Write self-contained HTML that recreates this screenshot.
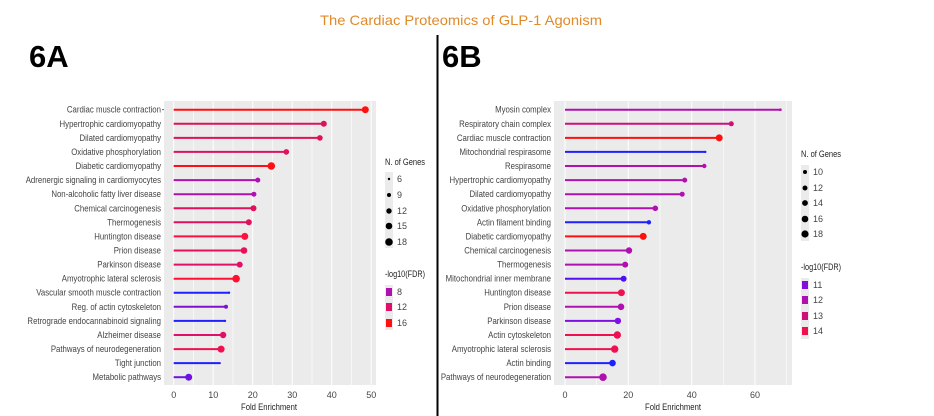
<!DOCTYPE html>
<html><head><meta charset="utf-8"><style>
html,body{margin:0;padding:0;background:#fff;}
svg{display:block;}
.l{font-family:"Liberation Sans",sans-serif;font-size:9.2px;fill:#444;}
.t{font-family:"Liberation Sans",sans-serif;font-size:9px;fill:#444;}
.h{font-family:"Liberation Sans",sans-serif;font-weight:bold;font-size:31px;fill:#000;}
</style></head><body>
<svg width="934" height="416" viewBox="0 0 934 416" xmlns="http://www.w3.org/2000/svg">
<text x="461" y="25" text-anchor="middle" font-family="Liberation Sans, sans-serif" font-size="14" fill="#e08a2a" textLength="282" lengthAdjust="spacingAndGlyphs">The Cardiac Proteomics of GLP-1 Agonism</text>
<text x="29" y="67" class="h">6A</text>
<text x="442" y="67" class="h">6B</text>
<line x1="437.5" y1="35" x2="437.5" y2="416" stroke="#000" stroke-width="2"/>

<!-- Panel A -->
<rect x="164" y="101" width="212" height="284" fill="#ebebeb"/>
<g stroke="#fff" stroke-width="0.6">
<line x1="193.5" y1="101" x2="193.5" y2="385"/><line x1="233" y1="101" x2="233" y2="385"/><line x1="272.5" y1="101" x2="272.5" y2="385"/><line x1="312" y1="101" x2="312" y2="385"/><line x1="351.5" y1="101" x2="351.5" y2="385"/>
</g>
<g stroke="#fff" stroke-width="1">
<line x1="173.7" y1="101" x2="173.7" y2="385"/><line x1="213.2" y1="101" x2="213.2" y2="385"/><line x1="252.7" y1="101" x2="252.7" y2="385"/><line x1="292.2" y1="101" x2="292.2" y2="385"/><line x1="331.7" y1="101" x2="331.7" y2="385"/><line x1="371.2" y1="101" x2="371.2" y2="385"/>
</g>
<g stroke-width="2">
<line x1="173.7" y1="109.7" x2="365.3" y2="109.7" stroke="#ff1010"/><circle cx="365.3" cy="109.7" r="3.5" fill="#ff1010"/>
<line x1="173.7" y1="123.8" x2="323.8" y2="123.8" stroke="#e0105a"/><circle cx="323.8" cy="123.8" r="3" fill="#e0105a"/>
<line x1="173.7" y1="137.9" x2="319.9" y2="137.9" stroke="#e0105a"/><circle cx="319.9" cy="137.9" r="2.8" fill="#e0105a"/>
<line x1="173.7" y1="151.9" x2="286.3" y2="151.9" stroke="#e01060"/><circle cx="286.3" cy="151.9" r="2.8" fill="#e01060"/>
<line x1="173.7" y1="166.0" x2="271.3" y2="166.0" stroke="#ff1010"/><circle cx="271.3" cy="166.0" r="3.8" fill="#ff1010"/>
<line x1="173.7" y1="180.1" x2="257.8" y2="180.1" stroke="#b010b0"/><circle cx="257.8" cy="180.1" r="2.5" fill="#b010b0"/>
<line x1="173.7" y1="194.2" x2="253.9" y2="194.2" stroke="#b010b0"/><circle cx="253.9" cy="194.2" r="2.5" fill="#b010b0"/>
<line x1="173.7" y1="208.3" x2="253.5" y2="208.3" stroke="#e0105a"/><circle cx="253.5" cy="208.3" r="3" fill="#e0105a"/>
<line x1="173.7" y1="222.3" x2="248.8" y2="222.3" stroke="#e0105a"/><circle cx="248.8" cy="222.3" r="3" fill="#e0105a"/>
<line x1="173.7" y1="236.4" x2="244.8" y2="236.4" stroke="#ff1040"/><circle cx="244.8" cy="236.4" r="3.5" fill="#ff1040"/>
<line x1="173.7" y1="250.5" x2="244" y2="250.5" stroke="#e8105a"/><circle cx="244" cy="250.5" r="3.3" fill="#e8105a"/>
<line x1="173.7" y1="264.6" x2="239.7" y2="264.6" stroke="#e01068"/><circle cx="239.7" cy="264.6" r="3" fill="#e01068"/>
<line x1="173.7" y1="278.7" x2="236.1" y2="278.7" stroke="#ff1030"/><circle cx="236.1" cy="278.7" r="3.8" fill="#ff1030"/>
<line x1="173.7" y1="292.7" x2="229" y2="292.7" stroke="#2020ff"/><circle cx="229" cy="292.7" r="1.2" fill="#2020ff"/>
<line x1="173.7" y1="306.8" x2="226" y2="306.8" stroke="#8010d0"/><circle cx="226" cy="306.8" r="2" fill="#8010d0"/>
<line x1="173.7" y1="320.9" x2="225" y2="320.9" stroke="#2020ff"/><circle cx="225" cy="320.9" r="1.2" fill="#2020ff"/>
<line x1="173.7" y1="335.0" x2="223.1" y2="335.0" stroke="#e0106a"/><circle cx="223.1" cy="335.0" r="3.2" fill="#e0106a"/>
<line x1="173.7" y1="349.1" x2="221.1" y2="349.1" stroke="#f01050"/><circle cx="221.1" cy="349.1" r="3.5" fill="#f01050"/>
<line x1="173.7" y1="363.1" x2="219.9" y2="363.1" stroke="#2020ff"/><circle cx="219.9" cy="363.1" r="1" fill="#2020ff"/>
<line x1="173.7" y1="377.2" x2="188.7" y2="377.2" stroke="#7010e8"/><circle cx="188.7" cy="377.2" r="3.5" fill="#7010e8"/>
</g>
<g class="l" text-anchor="end" transform="translate(161,0) scale(0.85,1)">
<text x="0" y="112.7">Cardiac muscle contraction</text>
<text x="0" y="126.8">Hypertrophic cardiomyopathy</text>
<text x="0" y="140.9">Dilated cardiomyopathy</text>
<text x="0" y="154.9">Oxidative phosphorylation</text>
<text x="0" y="169">Diabetic cardiomyopathy</text>
<text x="0" y="183.1">Adrenergic signaling in cardiomyocytes</text>
<text x="0" y="197.2">Non-alcoholic fatty liver disease</text>
<text x="0" y="211.3">Chemical carcinogenesis</text>
<text x="0" y="225.3">Thermogenesis</text>
<text x="0" y="239.4">Huntington disease</text>
<text x="0" y="253.5">Prion disease</text>
<text x="0" y="267.6">Parkinson disease</text>
<text x="0" y="281.7">Amyotrophic lateral sclerosis</text>
<text x="0" y="295.7">Vascular smooth muscle contraction</text>
<text x="0" y="309.8">Reg. of actin cytoskeleton</text>
<text x="0" y="323.9">Retrograde endocannabinoid signaling</text>
<text x="0" y="338">Alzheimer disease</text>
<text x="0" y="352.1">Pathways of neurodegeneration</text>
<text x="0" y="366.1">Tight junction</text>
<text x="0" y="380.2">Metabolic pathways</text>
</g>
<g stroke="#444" stroke-width="0.8">
<line x1="162" y1="109.7" x2="164" y2="109.7"/>
</g>
<g class="t" text-anchor="middle">
<text x="173.7" y="398">0</text><text x="213.2" y="398">10</text><text x="252.7" y="398">20</text><text x="292.2" y="398">30</text><text x="331.7" y="398">40</text><text x="371.2" y="398">50</text>
<text x="269" y="410" fill="#222" textLength="56" lengthAdjust="spacingAndGlyphs">Fold Enrichment</text>
</g>
<g class="t">
<text x="385" y="165" fill="#222" textLength="40" lengthAdjust="spacingAndGlyphs">N. of Genes</text>
<rect x="385" y="172" width="8" height="76" fill="#ebebeb"/>
<circle cx="389" cy="179" r="1.2" fill="#000"/><circle cx="389" cy="195" r="2" fill="#000"/><circle cx="389" cy="211" r="2.7" fill="#000"/><circle cx="389" cy="226" r="3.3" fill="#000"/><circle cx="389" cy="242" r="3.8" fill="#000"/>
<text x="397" y="182">6</text><text x="397" y="198">9</text><text x="397" y="214">12</text><text x="397" y="229">15</text><text x="397" y="245">18</text>
<text x="385" y="277" fill="#222" textLength="40" lengthAdjust="spacingAndGlyphs">-log10(FDR)</text>
<rect x="385" y="285" width="8" height="45" fill="#ebebeb"/>
<rect x="386" y="288" width="6" height="8" fill="#b010b0"/><rect x="386" y="303" width="6" height="8" fill="#e01068"/><rect x="386" y="319" width="6" height="8" fill="#ff1010"/>
<text x="397" y="295">8</text><text x="397" y="310">12</text><text x="397" y="326">16</text>
</g>

<!-- Panel B -->
<rect x="554" y="101" width="238" height="284" fill="#ebebeb"/>
<g stroke="#fff" stroke-width="0.6">
<line x1="596.7" y1="101" x2="596.7" y2="385"/><line x1="660" y1="101" x2="660" y2="385"/><line x1="723.3" y1="101" x2="723.3" y2="385"/><line x1="786.7" y1="101" x2="786.7" y2="385"/>
</g>
<g stroke="#fff" stroke-width="1">
<line x1="565" y1="101" x2="565" y2="385"/><line x1="628.3" y1="101" x2="628.3" y2="385"/><line x1="691.7" y1="101" x2="691.7" y2="385"/><line x1="755" y1="101" x2="755" y2="385"/>
</g>
<g stroke-width="2">
<line x1="565" y1="109.7" x2="780.4" y2="109.7" stroke="#b010b0"/><circle cx="780.4" cy="109.7" r="1.3" fill="#b010b0"/>
<line x1="565" y1="123.8" x2="731.3" y2="123.8" stroke="#d0107a"/><circle cx="731.3" cy="123.8" r="2.5" fill="#d0107a"/>
<line x1="565" y1="137.9" x2="719.2" y2="137.9" stroke="#ff1010"/><circle cx="719.2" cy="137.9" r="3.5" fill="#ff1010"/>
<line x1="565" y1="151.9" x2="705.3" y2="151.9" stroke="#2020ff"/><circle cx="705.3" cy="151.9" r="1.2" fill="#2020ff"/>
<line x1="565" y1="166.0" x2="704.3" y2="166.0" stroke="#b010b0"/><circle cx="704.3" cy="166.0" r="2.2" fill="#b010b0"/>
<line x1="565" y1="180.1" x2="684.7" y2="180.1" stroke="#b010b0"/><circle cx="684.7" cy="180.1" r="2.5" fill="#b010b0"/>
<line x1="565" y1="194.2" x2="682.2" y2="194.2" stroke="#b010b0"/><circle cx="682.2" cy="194.2" r="2.5" fill="#b010b0"/>
<line x1="565" y1="208.3" x2="655.3" y2="208.3" stroke="#b010b0"/><circle cx="655.3" cy="208.3" r="2.8" fill="#b010b0"/>
<line x1="565" y1="222.3" x2="648.9" y2="222.3" stroke="#2020ff"/><circle cx="648.9" cy="222.3" r="2.2" fill="#2020ff"/>
<line x1="565" y1="236.4" x2="643.2" y2="236.4" stroke="#ff1010"/><circle cx="643.2" cy="236.4" r="3.5" fill="#ff1010"/>
<line x1="565" y1="250.5" x2="629" y2="250.5" stroke="#b010b0"/><circle cx="629" cy="250.5" r="3.2" fill="#b010b0"/>
<line x1="565" y1="264.6" x2="625.2" y2="264.6" stroke="#b010b0"/><circle cx="625.2" cy="264.6" r="3" fill="#b010b0"/>
<line x1="565" y1="278.7" x2="623.6" y2="278.7" stroke="#5010f0"/><circle cx="623.6" cy="278.7" r="3" fill="#5010f0"/>
<line x1="565" y1="292.7" x2="621.4" y2="292.7" stroke="#f01050"/><circle cx="621.4" cy="292.7" r="3.5" fill="#f01050"/>
<line x1="565" y1="306.8" x2="621" y2="306.8" stroke="#b010b0"/><circle cx="621" cy="306.8" r="3.3" fill="#b010b0"/>
<line x1="565" y1="320.9" x2="617.9" y2="320.9" stroke="#8010e0"/><circle cx="617.9" cy="320.9" r="3.2" fill="#8010e0"/>
<line x1="565" y1="335.0" x2="617.3" y2="335.0" stroke="#f01050"/><circle cx="617.3" cy="335.0" r="3.7" fill="#f01050"/>
<line x1="565" y1="349.1" x2="614.7" y2="349.1" stroke="#f01050"/><circle cx="614.7" cy="349.1" r="3.7" fill="#f01050"/>
<line x1="565" y1="363.1" x2="612.5" y2="363.1" stroke="#2020ff"/><circle cx="612.5" cy="363.1" r="3.3" fill="#2020ff"/>
<line x1="565" y1="377.2" x2="603" y2="377.2" stroke="#b010b0"/><circle cx="603" cy="377.2" r="3.8" fill="#b010b0"/>
</g>
<g class="l" text-anchor="end" transform="translate(551,0) scale(0.85,1)">
<text x="0" y="112.7">Myosin complex</text>
<text x="0" y="126.8">Respiratory chain complex</text>
<text x="0" y="140.9">Cardiac muscle contraction</text>
<text x="0" y="154.9">Mitochondrial respirasome</text>
<text x="0" y="169">Respirasome</text>
<text x="0" y="183.1">Hypertrophic cardiomyopathy</text>
<text x="0" y="197.2">Dilated cardiomyopathy</text>
<text x="0" y="211.3">Oxidative phosphorylation</text>
<text x="0" y="225.3">Actin filament binding</text>
<text x="0" y="239.4">Diabetic cardiomyopathy</text>
<text x="0" y="253.5">Chemical carcinogenesis</text>
<text x="0" y="267.6">Thermogenesis</text>
<text x="0" y="281.7">Mitochondrial inner membrane</text>
<text x="0" y="295.7">Huntington disease</text>
<text x="0" y="309.8">Prion disease</text>
<text x="0" y="323.9">Parkinson disease</text>
<text x="0" y="338">Actin cytoskeleton</text>
<text x="0" y="352.1">Amyotrophic lateral sclerosis</text>
<text x="0" y="366.1">Actin binding</text>
<text x="0" y="380.2">Pathways of neurodegeneration</text>
</g>
<g class="t" text-anchor="middle">
<text x="565" y="398">0</text><text x="628.3" y="398">20</text><text x="691.7" y="398">40</text><text x="755" y="398">60</text>
<text x="673" y="410" fill="#222" textLength="56" lengthAdjust="spacingAndGlyphs">Fold Enrichment</text>
</g>
<g class="t">
<text x="801" y="157" fill="#222" textLength="40" lengthAdjust="spacingAndGlyphs">N. of Genes</text>
<rect x="801" y="165" width="8" height="76" fill="#ebebeb"/>
<circle cx="805" cy="172" r="2" fill="#000"/><circle cx="805" cy="188" r="2.5" fill="#000"/><circle cx="805" cy="203" r="2.9" fill="#000"/><circle cx="805" cy="219" r="3.3" fill="#000"/><circle cx="805" cy="234" r="3.6" fill="#000"/>
<text x="813" y="175">10</text><text x="813" y="191">12</text><text x="813" y="206">14</text><text x="813" y="222">16</text><text x="813" y="237">18</text>
<text x="801" y="270" fill="#222" textLength="40" lengthAdjust="spacingAndGlyphs">-log10(FDR)</text>
<rect x="801" y="278" width="8" height="61" fill="#ebebeb"/>
<rect x="802" y="281" width="6" height="8" fill="#8010e0"/><rect x="802" y="296" width="6" height="8" fill="#b010b0"/><rect x="802" y="312" width="6" height="8" fill="#d0107a"/><rect x="802" y="327" width="6" height="8" fill="#f01050"/>
<text x="813" y="288">11</text><text x="813" y="303">12</text><text x="813" y="319">13</text><text x="813" y="334">14</text>
</g>
</svg>
</body></html>
